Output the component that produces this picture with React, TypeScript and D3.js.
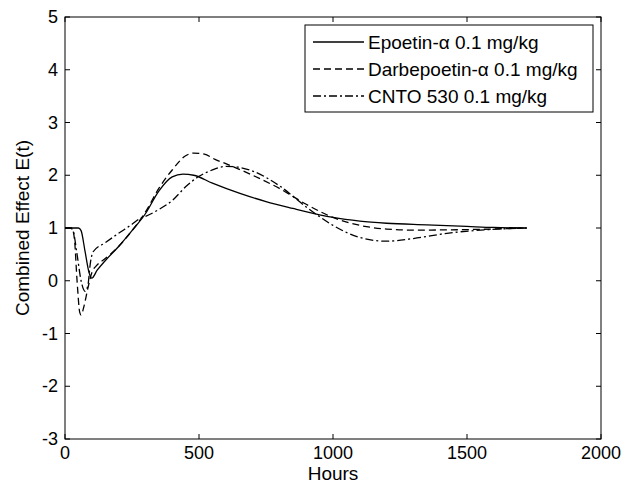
import React from "react";
import * as d3 from "d3";

const xTicks = [0, 500, 1000, 1500, 2000];
const yTicks = [-3, -2, -1, 0, 1, 2, 3, 4, 5];

const epoHours = [0, 50, 60, 75, 90, 100, 120, 150, 200, 250, 300, 350, 400, 440, 480, 550, 650, 750, 850, 950, 1000, 1100, 1200, 1350, 1500, 1600, 1723];
const epoValues = [1, 1, 0.95, 0.55, 0.15, 0.05, 0.2, 0.38, 0.65, 0.95, 1.27, 1.7, 1.97, 2.02, 2.0, 1.85, 1.66, 1.5, 1.37, 1.25, 1.2, 1.13, 1.09, 1.06, 1.03, 1.01, 1.0];

const darbHours = [0, 25, 35, 45, 55, 60, 70, 85, 100, 120, 150, 200, 250, 300, 350, 400, 450, 480, 520, 560, 600, 700, 800, 900, 1000, 1100, 1200, 1300, 1500, 1723];
const darbValues = [1, 1, 0.8, 0.0, -0.6, -0.65, -0.5, -0.15, 0.15, 0.3, 0.42, 0.65, 0.95, 1.3, 1.75, 2.1, 2.37, 2.42, 2.4, 2.3, 2.22, 2.0, 1.75, 1.45, 1.2, 1.05, 0.98, 0.96, 0.97, 1.0];

const cntoHours = [0, 20, 30, 45, 60, 75, 85, 95, 105, 150, 200, 250, 280, 300, 350, 400, 450, 500, 550, 600, 650, 700, 800, 900, 1000, 1100, 1200, 1300, 1425, 1550, 1723];
const cntoValues = [1, 1, 0.95, 0.5, 0.0, -0.2, -0.1, 0.35, 0.55, 0.72, 0.9, 1.07, 1.18, 1.22, 1.35, 1.52, 1.78, 1.98, 2.1, 2.17, 2.15, 2.08, 1.8, 1.4, 1.05, 0.82, 0.75, 0.8, 0.9, 0.96, 1.0];

const seriesNames = ["Epoetin-\u03b1 0.1 mg/kg", "Darbepoetin-\u03b1 0.1 mg/kg", "CNTO 530 0.1 mg/kg"];
const dashes = ["none", "7,4", "8,3,2,3"];

export default function App() {
  const W = 626, H = 490;
  const left = 65, right = 601, top = 17, bottom = 439;
  const x = d3.scaleLinear().domain([0, 2000]).range([left, right]);
  const y = d3.scaleLinear().domain([-3, 5]).range([bottom, top]);
  const line = d3.line<[number, number]>().x(d => x(d[0])).y(d => y(d[1])).curve(d3.curveMonotoneX);
  const series = [
    epoHours.map((h, i) => [h, epoValues[i]] as [number, number]),
    darbHours.map((h, i) => [h, darbValues[i]] as [number, number]),
    cntoHours.map((h, i) => [h, cntoValues[i]] as [number, number]),
  ];
  const font = "Arial, 'Liberation Sans', sans-serif";
  const fs = 18;
  const fl = 19;
  const tl = 5;
  const lgLeft = 305, lgRight = 593, lgTop = 25, rowH = 27;
  return (
    <svg width={W} height={H} style={{ position: "absolute", left: 0, top: 0, background: "#fff" }} fontFamily={font}>
      <rect x={0} y={0} width={W} height={H} fill="#fff" />
      {series.map((s, i) => (
        <path key={i} d={line(s) || ""} fill="none" stroke="#000" strokeWidth={1.3} strokeDasharray={dashes[i]} />
      ))}
      <rect x={left} y={top} width={right - left} height={bottom - top} fill="none" stroke="#000" strokeWidth={1} />
      {xTicks.map(t => (
        <g key={"x" + t}>
          <line x1={x(t)} x2={x(t)} y1={bottom} y2={bottom - tl} stroke="#000" />
          <line x1={x(t)} x2={x(t)} y1={top} y2={top + tl} stroke="#000" />
          <text x={x(t)} y={459} fontSize={fs} textAnchor="middle" fill="#000">{t}</text>
        </g>
      ))}
      {yTicks.map(t => (
        <g key={"y" + t}>
          <line x1={left} x2={left + tl} y1={y(t)} y2={y(t)} stroke="#000" />
          <line x1={right} x2={right - tl} y1={y(t)} y2={y(t)} stroke="#000" />
          <text x={58} y={y(t) + 6} fontSize={fs} textAnchor="end" fill="#000">{t}</text>
        </g>
      ))}
      <text x={(left + right) / 2} y={480} fontSize={fl} textAnchor="middle" fill="#000">Hours</text>
      <text transform={`translate(29,${(top + bottom) / 2}) rotate(-90)`} fontSize={fl} textAnchor="middle" fill="#000">Combined Effect E(t)</text>
      <rect x={lgLeft} y={lgTop} width={lgRight - lgLeft} height={rowH * 3 + 6} fill="#fff" stroke="#000" />
      {seriesNames.map((n, i) => (
        <g key={n}>
          <line x1={313} x2={364} y1={lgTop + 17 + i * rowH} y2={lgTop + 17 + i * rowH} stroke="#000" strokeWidth={1.3} strokeDasharray={dashes[i]} />
          <text x={368} y={lgTop + 24 + i * rowH} fontSize={fl} fill="#000">{n}</text>
        </g>
      ))}
    </svg>
  );
}
